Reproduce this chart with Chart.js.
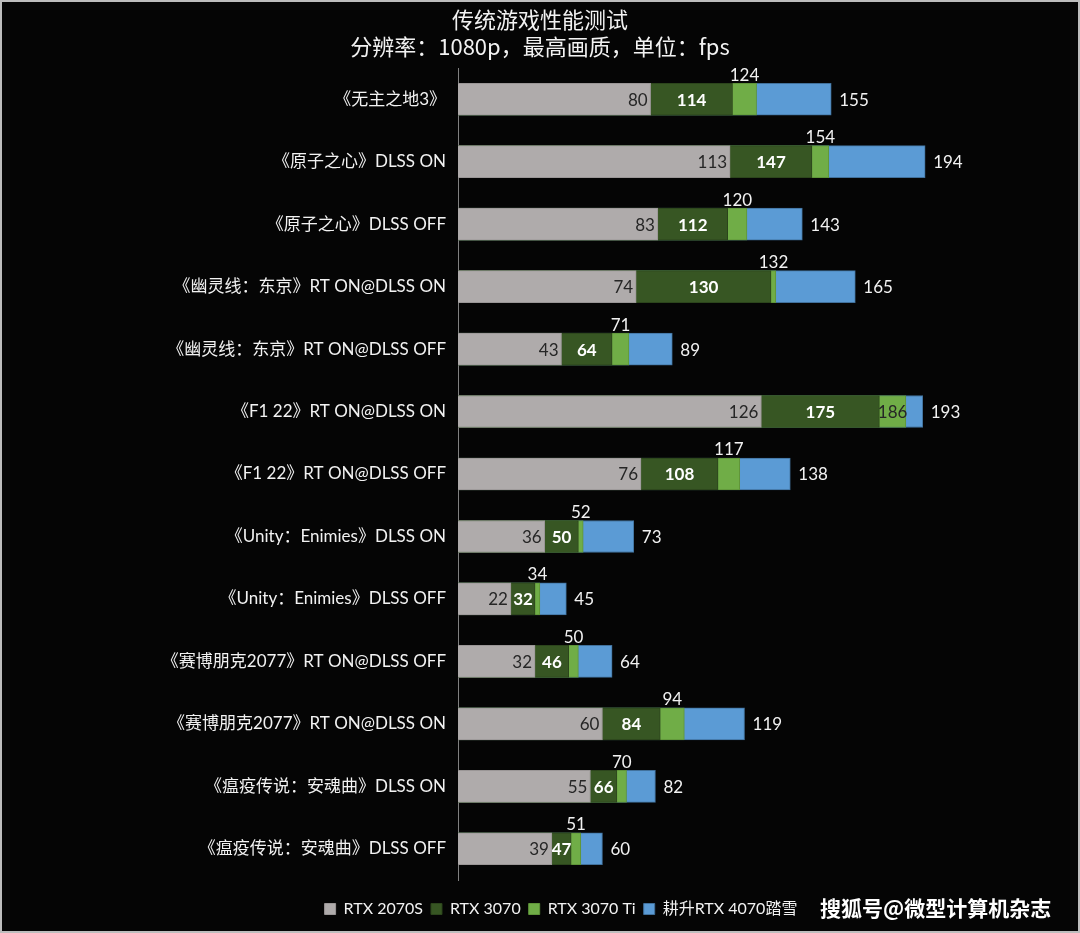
<!DOCTYPE html>
<html>
<head>
<meta charset="utf-8">
<script src="https://cdn.jsdelivr.net/npm/chart.js@4.4.0/dist/chart.umd.min.js"></script>
<style>
  html, body { margin: 0; padding: 0; background: #050505; }
  #wrap { width: 1080px; height: 933px; position: relative; }
</style>
</head>
<body>
<div id="wrap"><canvas id="chart"></canvas></div>
<script>
// données
const categories = [
  "《无主之地3》",
  "《原子之心》DLSS ON",
  "《原子之心》DLSS OFF",
  "《幽灵线：东京》RT ON@DLSS ON",
  "《幽灵线：东京》RT ON@DLSS OFF",
  "《F1 22》RT ON@DLSS ON",
  "《F1 22》RT ON@DLSS OFF",
  "《Unity：Enimies》DLSS ON",
  "《Unity：Enimies》DLSS OFF",
  "《赛博朋克2077》RT ON@DLSS OFF",
  "《赛博朋克2077》RT ON@DLSS ON",
  "《瘟疫传说：安魂曲》DLSS ON",
  "《瘟疫传说：安魂曲》DLSS OFF",
];
const rtx2070s = [80, 113, 83, 74, 43, 126, 76, 36, 22, 32, 60, 55, 39];
const rtx3070 = [114, 147, 112, 130, 64, 175, 108, 50, 32, 46, 84, 66, 47];
const rtx3070ti = [124, 154, 120, 132, 71, 186, 117, 52, 34, 50, 94, 70, 51];
const rtx4070 = [155, 194, 143, 165, 89, 193, 138, 73, 45, 64, 119, 82, 60];
const seriesNames = ["RTX 2070S", "RTX 3070", "RTX 3070 Ti", "耕升RTX 4070踏雪"];
const titleLines = ["传统游戏性能测试", "分辨率：1080p，最高画质，单位：fps"];
const watermark = "搜狐号@微型计算机杂志";
// le label 3070 Ti est dans la barre pour cette catégorie
const tiInside = ["《F1 22》RT ON@DLSS ON"];

const latin = '"Lato", "Noto Sans CJK SC", sans-serif';

// titre, valeurs, filigrane et cadre
const decorPlugin = {
  id: "decor",
  afterLayout(chart) {
    // décale la légende comme sur l'original
    const lg = chart.legend;
    lg.left += 2;
    lg.right += 2;
    lg.top += 13;
    lg.bottom += 13;
  },
  beforeDraw(chart) {
    const ctx = chart.ctx;
    ctx.save();
    ctx.fillStyle = "#050505";
    ctx.fillRect(0, 0, chart.width, chart.height);
    ctx.restore();
  },
  afterDatasetsDraw(chart) {
    const ctx = chart.ctx;
    const m = [0, 1, 2, 3].map((i) => chart.getDatasetMeta(i).data);
    ctx.save();
    ctx.textBaseline = "middle";
    categories.forEach((cat, i) => {
      const g = m[0][i], dg = m[1][i], lg = m[2][i], b = m[3][i];
      const y = g.y;
      const top = y - g.height / 2;
      ctx.font = "17px " + latin;
      // gris : fin intérieure
      ctx.fillStyle = "#262626";
      ctx.textAlign = "right";
      ctx.fillText(rtx2070s[i], g.x - 3, y + 1);
      // vert foncé : centre du segment
      ctx.font = "bold 17px " + latin;
      ctx.fillStyle = "#ffffff";
      ctx.textAlign = "center";
      ctx.fillText(rtx3070[i], (g.x + dg.x) / 2, y + 1);
      // vert clair : au-dessus
      ctx.font = "17px " + latin;
      if (tiInside.includes(cat)) {
        ctx.fillStyle = "#262626";
        ctx.fillText(rtx3070ti[i], (dg.x + lg.x) / 2, y + 1);
      } else {
        ctx.fillStyle = "#f2f2f2";
        ctx.fillText(rtx3070ti[i], (dg.x + lg.x) / 2, top - 8);
      }
      // bleu : extérieur
      ctx.fillStyle = "#f2f2f2";
      ctx.textAlign = "left";
      ctx.fillText(rtx4070[i], b.x + 8, y + 1);
    });

    // titre
    ctx.fillStyle = "#f2f2f2";
    ctx.textAlign = "center";
    ctx.font = '22px "Noto Sans CJK SC", sans-serif';
    ctx.fillText(titleLines[0], 540, 20);
    ctx.fillText(titleLines[1], 540, 47);

    // filigrane
    ctx.font = 'bold 21px "Noto Sans CJK SC", sans-serif';
    ctx.fillStyle = "#ffffff";
    ctx.textAlign = "left";
    ctx.fillText(watermark, 820, 908);

    // cadre
    ctx.strokeStyle = "#bdbdbd";
    ctx.lineWidth = 2;
    ctx.strokeRect(1, 1, chart.width - 2, chart.height - 2);
    ctx.restore();
  },
};

const colors = ["#AFABAB", "#375623", "#70AD47", "#5B9BD5"];
const borders = ["#9a9696", "#2c451c", "#5f9439", "#41719C"];
const values = [rtx2070s, rtx3070, rtx3070ti, rtx4070];

const chart = new Chart(document.getElementById("chart"), {
  type: "bar",
  data: {
    labels: categories,
    datasets: values.map((data, i) => ({
      label: seriesNames[i],
      data,
      backgroundColor: colors[i],
      borderColor: borders[i],
      borderWidth: 1,
      borderSkipped: "start",
      grouped: false,
      barThickness: 32,
    })),
  },
  options: {
    indexAxis: "y",
    responsive: true,
    maintainAspectRatio: false,
    animation: false,
    layout: { padding: { left: 58, right: 20, top: 68, bottom: 19 } },
    plugins: {
      title: { display: false },
      tooltip: { enabled: false },
      legend: {
        position: "bottom",
        labels: {
          color: "#f2f2f2",
          boxWidth: 11,
          boxHeight: 11,
          padding: 8,
          font: { size: 16, family: latin },
        },
      },
    },
    scales: {
      x: { display: false, min: 0, max: 250 },
      y: {
        grid: { display: false },
        border: { display: true, color: "#808080", width: 1 },
        ticks: {
          color: "#f2f2f2",
          padding: 4,
          font: { size: 17, family: latin },
        },
        afterFit(scale) {
          scale.width = 400;
        },
      },
    },
  },
  plugins: [decorPlugin],
});
</script>
</body>
</html>
